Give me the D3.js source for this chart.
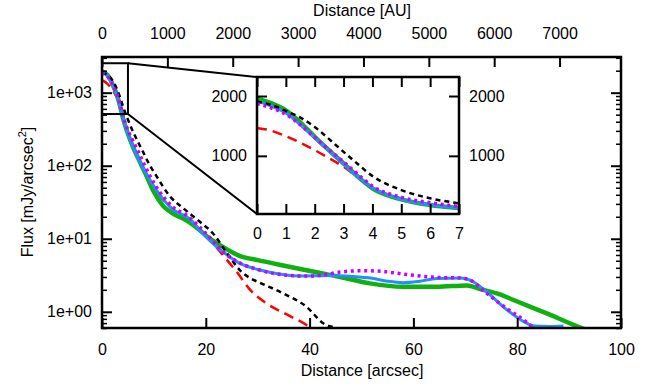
<!DOCTYPE html>
<html>
<head>
<meta charset="utf-8">
<script src="https://cdn.jsdelivr.net/npm/d3@7"></script>
<style>
body { margin: 0; background: #fff; }
text { font-family: "Liberation Sans", Arial, Helvetica, sans-serif; }
</style>
</head>
<body>
<div id="chart"></div>
<script>
// radial profiles: [distance in arcsec, flux in mJy/arcsec^2]
var profileRed = [[0,1467],[0.5,1420],[1,1328],[1.5,1220],[2,1095],[2.5,960],[3,817],[3.5,640],[4,467],[5,273],[6,180],[7,125],[8.9,70],[10.9,41],[13.7,25],[16.3,19.5],[18.9,12.8],[21.4,8.6],[24,5.2],[26,3.5],[28.3,2.09],[31.7,1.3],[35.6,0.92],[39.4,0.66],[41,0.55]];
var profileGreen = [[0,1957],[0.5,1880],[1,1762],[1.5,1560],[2,1317],[2.5,1090],[3,873],[3.5,650],[4,457],[5,273],[6,178],[7,125],[8.3,80],[9.9,45],[11.8,28],[14,21.5],[16,18.3],[18.9,13],[20.2,10.8],[22.7,8.2],[26.6,5.8],[30,5.1],[33,4.6],[39.4,3.7],[45.9,3.0],[51.6,2.45],[58,2.2],[64.5,2.2],[70.3,2.3],[72.8,2.05],[76.7,1.73],[79.3,1.45],[85.7,0.95],[92.7,0.59],[94,0.55]];
var profileBlue = [[0,1912],[0.5,1830],[1,1717],[1.5,1520],[2,1300],[2.5,1080],[3,862],[3.5,650],[4,467],[5,273],[6,180],[7,125],[8.9,70],[10.9,42],[13.7,25],[16.3,20],[17.5,17],[18.9,13],[21.4,8.6],[24.7,5.6],[26.6,4.6],[30,3.8],[33,3.4],[38,3.1],[44,3.15],[48,3.05],[52,2.87],[55,2.62],[58,2.5],[61,2.6],[64.5,2.85],[69,2.9],[70.9,2.72],[74.1,1.88],[77.3,1.17],[81.8,0.7],[83.3,0.64],[86,0.63],[88.9,0.64]];
var profileBlack = [[0,1910],[0.5,1850],[1,1750],[1.5,1640],[2,1483],[2.5,1280],[3,1067],[3.5,860],[4,662],[5,428],[6,290],[7,207],[8,150],[9,108],[10.5,72],[13.1,38],[15.7,26],[18.9,17],[21.4,11.8],[23.5,7.3],[25.3,4.8],[26.6,3.7],[28.5,2.9],[30.4,2.5],[34.9,1.79],[39.4,1.17],[42.7,0.69],[45.2,0.59],[47,0.5]];
var profileMagenta = [[0,1873],[0.5,1800],[1,1695],[1.5,1520],[2,1307],[2.5,1100],[3,900],[3.5,690],[4,495],[5,307],[6,217],[7,155],[9,78],[11,45],[13.7,27],[16.3,21],[19,14],[21.4,9.3],[23,7],[25,5.4],[27,4.5],[30,3.8],[33,3.36],[36,3.15],[39.4,3.08],[42,3.15],[45.9,3.5],[50,3.65],[53,3.62],[58.1,3.28],[64.5,2.96],[69,2.9],[70.9,2.72],[74.1,1.8],[77.3,1.2],[81.8,0.72],[83.1,0.6]];

var xTickValues = [0, 20, 40, 60, 80, 100];
var yTickValues = [1, 10, 100, 1000];
var yTickLabels = ["1e+00", "1e+01", "1e+02", "1e+03"];
var auTickValues = [0, 1000, 2000, 3000, 4000, 5000, 6000, 7000];
var insetXTicks = [0, 1, 2, 3, 4, 5, 6, 7];
var insetYTicks = [1000, 2000];
var auPerArcsec = 79.4;

var width = 656, height = 385;

var svg = d3.select("#chart").append("svg")
    .attr("width", width)
    .attr("height", height);

var x = d3.scaleLinear().domain([0, 100]).range([102, 621]);
var xAU = d3.scaleLinear().domain([0, 100 * auPerArcsec]).range([102, 621]);
var y = d3.scaleLog().domain([0.6, 3080]).range([328, 57]);

var xi = d3.scaleLinear().domain([0, 7]).range([257, 459]);
var yi = d3.scaleLinear().domain([28, 2318]).range([214, 77]);

var fmt = d3.format("d");

var series = [
    {data: profileRed, color: "#ff0000", width: 2.5, dash: "10,6"},
    {data: profileGreen, color: "#10b010", width: 4.5, dash: null},
    {data: profileBlue, color: "#1e90ff", width: 3, dash: null},
    {data: profileBlack, color: "#000000", width: 2.5, dash: "5,4"},
    {data: profileMagenta, color: "#cc00ff", width: 3.5, dash: "3,3.7"}
];

var minorTicks = [];
[0.1, 1, 10, 100, 1000].forEach(function(d) {
    for (var k = 2; k <= 9; k++) {
        var v = d * k;
        if (v >= 0.6 && v <= 3080) minorTicks.push(v);
    }
});

// clip paths
var defs = svg.append("defs");
defs.append("clipPath").attr("id", "clipMain")
    .append("rect").attr("x", 102).attr("y", 57).attr("width", 519).attr("height", 271);
defs.append("clipPath").attr("id", "clipInset")
    .append("rect").attr("x", xi(0)).attr("y", yi(2318)).attr("width", xi(7) - xi(0)).attr("height", yi(28) - yi(2318));

function styleAxis(g, w) {
    g.select(".domain").remove();
    g.selectAll(".tick line").attr("stroke-width", w);
    g.selectAll(".tick text").style("font-size", "16px").attr("fill", "#000");
}

// main curves
var line = d3.line()
    .x(function(d) { return x(d[0]); })
    .y(function(d) { return y(d[1]); })
    .curve(d3.curveMonotoneX);

var gMain = svg.append("g").attr("clip-path", "url(#clipMain)");
series.forEach(function(s) {
    gMain.append("path")
        .attr("d", line(s.data))
        .attr("fill", "none")
        .attr("stroke", s.color)
        .attr("stroke-width", s.width)
        .attr("stroke-dasharray", s.dash);
});

// main axes
svg.append("g").attr("transform", "translate(102,0)")
    .call(d3.axisLeft(y).tickValues(yTickValues).tickFormat(function(d, i) { return yTickLabels[i]; }).tickSize(-10).tickPadding(10))
    .call(styleAxis, 2);
svg.append("g").attr("transform", "translate(102,0)")
    .call(d3.axisLeft(y).tickValues(minorTicks).tickFormat("").tickSize(-5))
    .call(styleAxis, 1.5);
svg.append("g").attr("transform", "translate(621,0)")
    .call(d3.axisRight(y).tickValues(yTickValues).tickFormat("").tickSize(-10))
    .call(styleAxis, 2);
svg.append("g").attr("transform", "translate(621,0)")
    .call(d3.axisRight(y).tickValues(minorTicks).tickFormat("").tickSize(-5))
    .call(styleAxis, 1.5);
svg.append("g").attr("transform", "translate(0,328)")
    .call(d3.axisBottom(x).tickValues(xTickValues).tickFormat(fmt).tickSize(-10).tickPadding(16))
    .call(styleAxis, 2);
svg.append("g").attr("transform", "translate(0,57)")
    .call(d3.axisTop(xAU).tickValues(auTickValues).tickFormat(fmt).tickSize(-10).tickPadding(18))
    .call(styleAxis, 2);

svg.append("rect")
    .attr("x", 102).attr("y", 57).attr("width", 519).attr("height", 271)
    .attr("fill", "none").attr("stroke", "#000").attr("stroke-width", 2.5);

// zoom box and connectors
var boxTop = y(2530), boxBottom = y(510), boxRight = x(5);
svg.append("rect")
    .attr("x", x(0)).attr("y", boxTop).attr("width", boxRight - x(0)).attr("height", boxBottom - boxTop)
    .attr("fill", "none").attr("stroke", "#000").attr("stroke-width", 2);
svg.append("line")
    .attr("x1", boxRight).attr("y1", boxTop).attr("x2", xi(0)).attr("y2", yi(2318))
    .attr("stroke", "#000").attr("stroke-width", 2);
svg.append("line")
    .attr("x1", boxRight).attr("y1", boxBottom).attr("x2", xi(0)).attr("y2", yi(28))
    .attr("stroke", "#000").attr("stroke-width", 2);

// inset
svg.append("rect")
    .attr("x", xi(0)).attr("y", yi(2318)).attr("width", xi(7) - xi(0)).attr("height", yi(28) - yi(2318))
    .attr("fill", "#fff");

var lineInset = d3.line()
    .x(function(d) { return xi(d[0]); })
    .y(function(d) { return yi(d[1]); })
    .curve(d3.curveMonotoneX);

var gInset = svg.append("g").attr("clip-path", "url(#clipInset)");
series.forEach(function(s) {
    gInset.append("path")
        .attr("d", lineInset(s.data.filter(function(d) { return d[0] <= 9; })))
        .attr("fill", "none")
        .attr("stroke", s.color)
        .attr("stroke-width", s.width)
        .attr("stroke-dasharray", s.dash);
});

svg.append("g").attr("transform", "translate(" + xi(0) + ",0)")
    .call(d3.axisLeft(yi).tickValues(insetYTicks).tickFormat(fmt).tickSize(-10).tickPadding(10))
    .call(styleAxis, 2);
svg.append("g").attr("transform", "translate(" + xi(7) + ",0)")
    .call(d3.axisRight(yi).tickValues(insetYTicks).tickFormat(fmt).tickSize(-10).tickPadding(10))
    .call(styleAxis, 2);
svg.append("g").attr("transform", "translate(0," + yi(28) + ")")
    .call(d3.axisBottom(xi).tickValues(insetXTicks).tickFormat(fmt).tickSize(-10).tickPadding(14))
    .call(styleAxis, 2);
svg.append("g").attr("transform", "translate(0," + yi(2318) + ")")
    .call(d3.axisTop(xi).tickValues(insetXTicks).tickFormat("").tickSize(-10))
    .call(styleAxis, 2);

svg.append("rect")
    .attr("x", xi(0)).attr("y", yi(2318)).attr("width", xi(7) - xi(0)).attr("height", yi(28) - yi(2318))
    .attr("fill", "none").attr("stroke", "#000").attr("stroke-width", 2.5);

// axis titles
svg.append("text")
    .attr("x", 362).attr("y", 376)
    .attr("text-anchor", "middle")
    .style("font-size", "16px")
    .text("Distance [arcsec]");

svg.append("text")
    .attr("x", 362).attr("y", 16)
    .attr("text-anchor", "middle")
    .style("font-size", "16px")
    .text("Distance [AU]");

var yTitle = svg.append("text")
    .attr("transform", "translate(33,192) rotate(-90)")
    .attr("text-anchor", "middle")
    .style("font-size", "16px");
yTitle.append("tspan").text("Flux [mJy/arcsec");
yTitle.append("tspan").attr("dy", -7).style("font-size", "11px").text("2");
yTitle.append("tspan").attr("dy", 7).text("]");
</script>
</body>
</html>
